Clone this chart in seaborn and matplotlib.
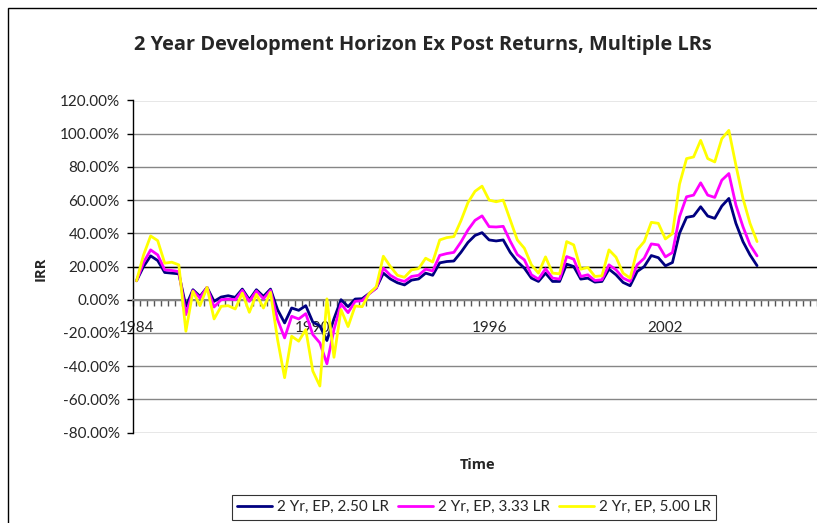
import numpy as np
import pandas as pd
import matplotlib
matplotlib.use('Agg')
import matplotlib.pyplot as plt
import seaborn as sns
from matplotlib.lines import Line2D
from matplotlib.patches import Rectangle

# quarterly IRR (%) from 1984 Q1
irr_250 = [11.4, 20, 26.4, 23.6, 16.4, 16, 15.6, -4, 6, 2,
           7.4, -1, 1.6, 2.4, 1.4, 6.4, 0, 6, 2, 6.4,
           -6, -14, -5, -6.4, -3.6, -13.5, -15.8, -24.6, -11.5, 0,
           -4.2, 0.4, 0.6, 3.8, 7, 16, 12.5, 10.2, 8.9, 11.8,
           12.5, 16, 14.7, 22.2, 23, 23.3, 28.5, 34.5, 38.7, 40.4,
           36, 35.4, 36, 28.5, 23, 19, 13, 11, 16, 11,
           11, 21.4, 20, 12.4, 13, 10.6, 11, 18.4, 15, 10.4,
           8.4, 17, 20, 26.6, 25.3, 20.4, 22.4, 40, 49.6, 50.4,
           56, 50.4, 49, 56.4, 61, 46, 35, 27, 20.5]
irr_333 = [11.4, 22.4, 30, 27, 18, 17.6, 17, -9, 5.4, 1,
           7.4, -4.4, 0, 0.4, 0, 5.6, -1, 5.2, 0.6, 5.6,
           -12, -23, -10, -11.6, -8.4, -21, -26, -38.6, -18, -2.5,
           -7.8, -1, -0.6, 3.6, 7, 19, 14.7, 12.2, 11, 14,
           14.7, 18.4, 17.3, 26.7, 27.8, 28.5, 34.7, 42, 47.8, 50.5,
           44, 43.8, 44.2, 35.2, 27.2, 24, 15, 12.4, 18.6, 13,
           12.4, 26, 24.4, 14, 15, 11.6, 12, 21, 18, 13,
           11, 21, 25, 33.6, 33, 25.8, 28.4, 50, 62, 63,
           70.4, 63, 61.6, 72, 76, 57, 44, 33, 26.4]
irr_500 = [11.4, 27, 38.4, 35.6, 22, 22.6, 21, -19, 5, -3.6,
           7.4, -11.6, -4, -3.6, -5.6, 4, -7.6, 3.2, -5, 4.4,
           -24, -47, -22, -25, -18, -43, -52, 0.5, -34.7, -6,
           -16.2, -3.8, -4.2, 3.8, 7.8, 26.2, 20, 14.7, 13.5, 18,
           18.7, 25, 22.7, 36, 37.4, 38, 47.5, 58.5, 65.3, 68.4,
           60, 59, 60, 48, 36, 31, 21, 16, 25.8, 16,
           15.6, 35, 33, 18.4, 19.4, 14, 14.4, 30, 25.6, 16,
           13, 30, 35, 46.6, 46, 36.6, 39.8, 69.5, 85, 86,
           96, 85, 83, 97, 102, 81, 61, 46, 35]

series_names = ['2 Yr, EP, 2.50 LR', '2 Yr, EP, 3.33 LR', '2 Yr, EP, 5.00 LR']
series_colors = ['#000080', '#FF00FF', '#FFFF00']
year_labels = ['1984', '1990', '1996', '2002']
year_pos = [0, 25, 50, 75]

wide = pd.DataFrame({series_names[0]: irr_250,
                     series_names[1]: irr_333,
                     series_names[2]: irr_500})
wide['quarter'] = np.arange(len(wide))
long = wide.melt(id_vars='quarter', var_name='series', value_name='irr')

sns.set_style('white')
plt.rcParams['font.family'] = ['Lato', 'DejaVu Sans']

W, H = 817, 523
fig = plt.figure(figsize=(W / 100, H / 100), dpi=100)
ax = fig.add_axes([133 / W, 1 - 432.5 / H, 1 - 133 / W, (432.5 - 100.5) / H])

ax.yaxis.grid(True, color='#868686', linewidth=1)
ax.axhline(20, color='black', linewidth=1, zorder=1)

sns.lineplot(data=long, x='quarter', y='irr', hue='series', palette=series_colors,
             estimator=None, linewidth=2.0, ax=ax, legend=False, zorder=3)

ax.set_xlim(-0.5, (W - 136.5) / 7.1)
ax.set_ylim(-80, 120)
ax.set_yticks(range(-80, 121, 20))
ax.set_yticklabels([f'{v:.2f}%' for v in range(-80, 121, 20)], fontsize=11)
ax.tick_params(axis='y', direction='out', length=4.5, width=1, color='black', pad=5, left=True)

ax.spines['top'].set_visible(False)
ax.spines['right'].set_visible(False)
ax.spines['left'].set_color('black')
ax.spines['left'].set_linewidth(1)
ax.spines['bottom'].set_position(('data', 0))
ax.spines['bottom'].set_color('#868686')
ax.spines['bottom'].set_linewidth(1.5)

ax.set_xticks(year_pos)
ax.set_xticklabels(year_labels, fontsize=11)
ax.set_xticks(np.arange(-0.5, 97, 1), minor=True)
ax.tick_params(axis='x', which='major', length=0, pad=15, bottom=True)
ax.tick_params(axis='x', which='minor', direction='out', length=4, width=1, color='#555555', bottom=True)
ax.set_xlabel('')
ax.set_ylabel('')

fig.text(0.517, 1 - 45 / H, '2 Year Development Horizon Ex Post Returns, Multiple LRs',
         ha='center', va='center', fontsize=14.4, fontweight='bold',
         family=['Open Sans', 'DejaVu Sans'])
fig.text(41 / W, 1 - 269 / H, 'IRR', rotation=90, ha='center', va='center',
         fontsize=10.5, fontweight='bold', family=['Open Sans', 'DejaVu Sans'])
fig.text(478 / W, 1 - 465 / H, 'Time', ha='center', va='center', fontsize=10.5,
         fontweight='bold', family=['Open Sans', 'DejaVu Sans'])

handles = [Line2D([], [], color=c, linewidth=2.0) for c in series_colors]
leg = fig.legend(handles, series_names, loc='upper center', bbox_to_anchor=(474 / W, 1 - 495 / H),
                 ncol=3, frameon=True, fancybox=False, edgecolor='black', fontsize=11,
                 handlelength=2.3, handletextpad=0.3, columnspacing=0.6, borderpad=0.35,
                 borderaxespad=0)
leg.get_frame().set_linewidth(0.8)

fig.add_artist(Rectangle((8 / W, -0.1), 1.2, 1 - 8 / H + 0.1, transform=fig.transFigure,
                         fill=False, edgecolor='black', linewidth=1))

fig.savefig('out.png', dpi=100)
